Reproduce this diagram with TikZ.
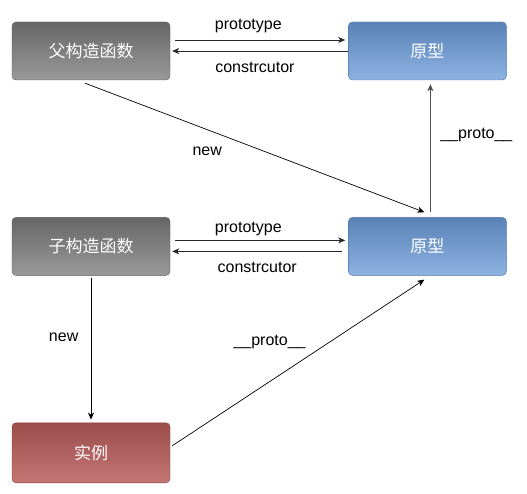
\documentclass[tikz,border=0pt]{standalone}
\usepackage{fontspec}
\setmainfont{Liberation Sans}
\newfontfamily\cjk{Noto Sans CJK SC}
\usepackage{tikz}
\usetikzlibrary{arrows.meta,positioning}

\definecolor{graytop}{HTML}{666666}
\definecolor{graybot}{HTML}{9A9A9A}
\definecolor{bluetop}{HTML}{5A82B6}
\definecolor{bluebot}{HTML}{8DB3E2}
\definecolor{redtop}{HTML}{9B4D4B}
\definecolor{redbot}{HTML}{C47674}

\begin{document}
\begin{tikzpicture}[
  node distance=137pt and 178pt,
  box/.style={rounded corners=4pt,inner sep=0pt,minimum width=158pt,minimum height=58pt,
    text=white,font=\cjk\fontsize{17}{20}\selectfont},
  gbox/.style={box,draw=graytop!85!black,top color=graytop,bottom color=graybot},
  bbox/.style={box,draw=bluetop!90!black,top color=bluetop,bottom color=bluebot},
  rbox/.style={box,draw=redtop!85!black,top color=redtop,bottom color=redbot,minimum height=60pt},
  arrow/.style={-{Stealth[length=7pt,width=6pt,inset=2pt]},line width=0.9pt,black!85},
  lbl/.style={font=\fontsize{16}{19}\selectfont,text=black}
]
\useasboundingbox (0pt,0pt) rectangle (527pt,-494pt);

\node[gbox] (Fa) at (91pt,-51pt) {父构造函数};
\node[bbox, right=of Fa] (PFa) {原型};
\node[gbox, below=of Fa] (Ch) {子构造函数};
\node[bbox, right=of Ch] (PCh) {原型};
\node[rbox, below=147pt of Ch] (Ins) {实例};

% parent constructor <-> prototype
\draw[arrow] ([xshift=5pt,yshift=11pt]Fa.east) -- node[lbl,above=3pt,pos=0.43]{prototype} ([xshift=-3pt,yshift=11pt]PFa.west);
\draw[arrow] (PFa.west) -- node[lbl,below=7pt,pos=0.53]{constrcutor} ([xshift=2pt]Fa.east);

% child constructor <-> prototype
\draw[arrow] ([xshift=5pt,yshift=6pt]Ch.east) -- node[lbl,above=1pt,pos=0.43]{prototype} ([xshift=-3pt,yshift=6pt]PCh.west);
\draw[arrow] ([xshift=-6pt,yshift=-5pt]PCh.west) -- node[lbl,below=7pt,pos=0.5]{constrcutor} ([xshift=2pt,yshift=-5pt]Ch.east);

% new
\draw[arrow,line width=0.7pt,black] ([xshift=-6pt,yshift=-3pt]Fa.south) -- node[lbl,below=14pt,pos=0.36]{new} ([xshift=-3pt,yshift=5pt]PCh.north);
\draw[arrow,line width=0.7pt,black] ([yshift=-2pt]Ch.south) -- node[lbl,left=9pt,pos=0.42]{new} ([yshift=3pt]Ins.north);

% __proto__
\draw[arrow,line width=1.2pt,black!70] ([xshift=3pt,yshift=5pt]PCh.north) -- node[lbl,right=6pt,pos=0.6]{\_\_proto\_\_} ([xshift=3pt,yshift=-4pt]PFa.south);
\draw[arrow,line width=0.7pt,black] ([xshift=2pt,yshift=7pt]Ins.east) -- node[lbl,above left=14pt and -16pt,pos=0.48]{\_\_proto\_\_} ([xshift=-3pt,yshift=-4pt]PCh.south);
\end{tikzpicture}
\end{document}
